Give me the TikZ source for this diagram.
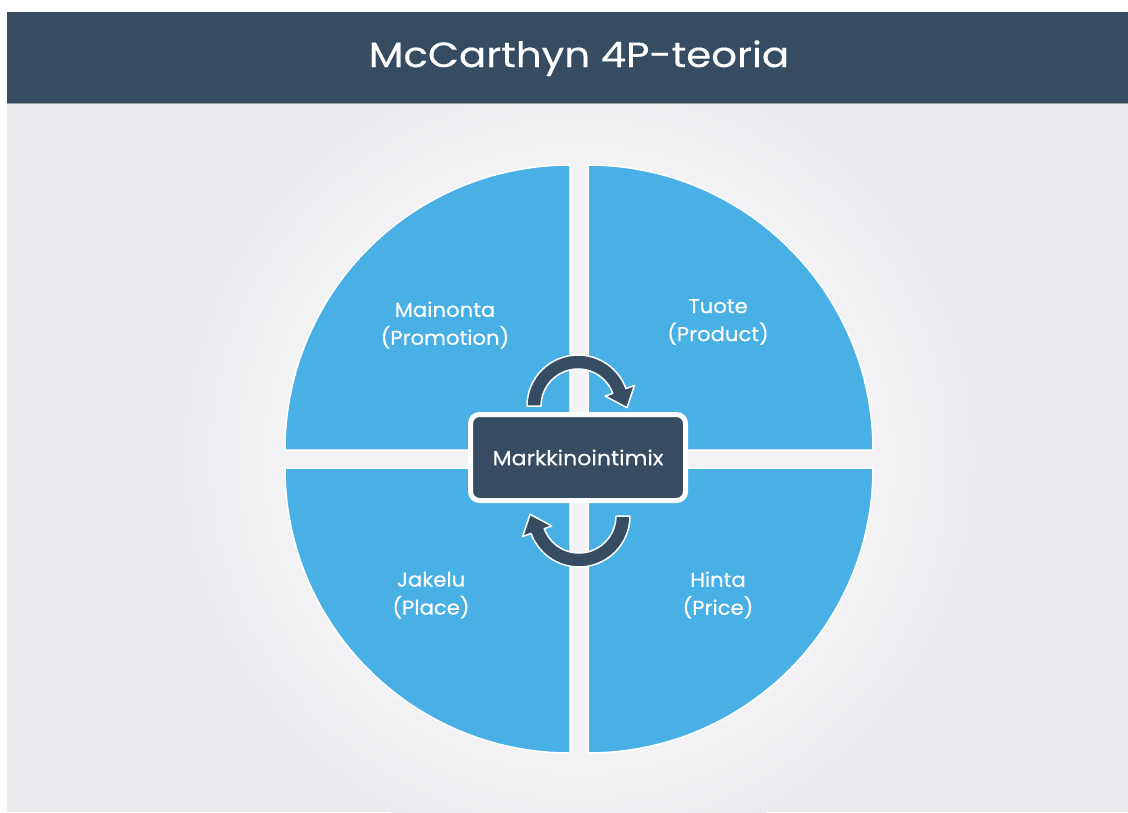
\documentclass[tikz,border=0pt]{standalone}
\usepackage{fontspec}
\setmainfont{Poppins}[FakeBold=0.35]
\definecolor{slate}{HTML}{364C63}
\definecolor{pageback}{HTML}{EBEBEF}
\definecolor{halo}{HTML}{F3F3F5}
\definecolor{quadblue}{HTML}{48B0E4}
\definecolor{rule}{HTML}{9AA0A8}
\newcommand{\widetext}[2]{\scalebox{#1}[1]{#2}}
\begin{document}
\begin{tikzpicture}[x=1pt,y=-1pt,
  quadrant/.style={fill=quadblue, draw=white, line width=1.5pt},
  quadlabel/.style={text=white, font=\fontsize{20}{28}\selectfont, align=center},
  cyclearrow/.style={fill=slate, draw=white, line width=1.5pt, line join=round},
  mixbox/.style={draw=white, line width=5pt, fill=slate, rounded corners=9pt,
    minimum width=215pt, minimum height=86pt, text=white,
    font=\fontsize{20.5}{24}\selectfont}]
  \useasboundingbox (0,0) rectangle (1128,812);
  \clip (0,0) rectangle (1128,812);

  % page and background
  \fill[white] (0,0) rectangle (1128,812);
  \fill[pageback] (7,103) rectangle (1128,812);
  % soft light disc behind the wheel, built from concentric rings
  \foreach \i in {0,...,24}{
    \pgfmathsetmacro{\rad}{400-4*\i}
    \pgfmathsetmacro{\mix}{4*\i}
    \fill[halo!\mix!pageback] (579,459) circle[radius=\rad];
  }

  % the four quarters of the wheel
  \fill[quadrant] (570,450) -- ++(-285,0) arc[start angle=180, end angle=270, radius=285] -- cycle;
  \fill[quadrant] (588,450) -- ++(0,-285) arc[start angle=270, end angle=360, radius=285] -- cycle;
  \fill[quadrant] (588,468) -- ++(285,0) arc[start angle=0, end angle=90, radius=285] -- cycle;
  \fill[quadrant] (570,468) -- ++(0,285) arc[start angle=90, end angle=180, radius=285] -- cycle;

  % circular arrows above and below the centre box
  \filldraw[cyclearrow] ([shift={(578,406)}]180:51) arc[start angle=180, end angle=340, radius=51]
    -- ([shift={(578,406)}]340:60) -- ([shift={(578,406)}]2:49)
    -- ([shift={(578,406)}]340:29) -- ([shift={(578,406)}]340:37)
    arc[start angle=340, end angle=180, radius=37] -- cycle;
  \filldraw[cyclearrow] ([shift={(579,516)}]0:51) arc[start angle=0, end angle=160, radius=51]
    -- ([shift={(579,516)}]160:60) -- ([shift={(579,516)}]182:49)
    -- ([shift={(579,516)}]160:29) -- ([shift={(579,516)}]160:37)
    arc[start angle=160, end angle=0, radius=37] -- cycle;

  % centre box
  \node[mixbox] (mix) at (578,457.5) {\widetext{1.08}{Markkinointimix}};

  % quarter labels
  \node[quadlabel] (promotion) at (445,325) {\widetext{1.06}{Mainonta}\\\widetext{1.06}{(Promotion)}};
  \node[quadlabel] (product) at (718,322) {\widetext{1.06}{Tuote}\\\widetext{1.06}{(Product)}};
  \node[quadlabel] (place) at (431,595) {\widetext{1.06}{Jakelu}\\\widetext{1.06}{(Place)}};
  \node[quadlabel] (price) at (718,595) {\widetext{1.06}{Hinta}\\\widetext{1.06}{(Price)}};

  % title bar
  \fill[slate] (7,12) rectangle (1128,103);
  \draw[rule, line width=1pt] (7,103.5) -- (1128,103.5);
  \node[anchor=base, text=white, font=\fontsize{35}{40}\selectfont] (title) at (579,67) {\widetext{1.15}{McCarthyn 4P-teoria}};
\end{tikzpicture}
\end{document}
